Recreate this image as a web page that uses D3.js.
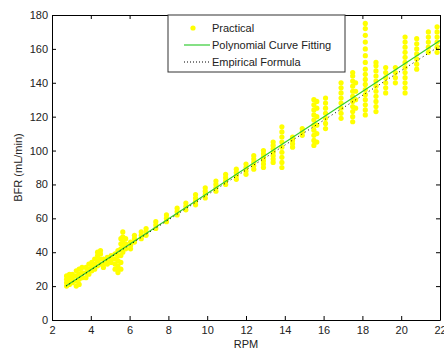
<!DOCTYPE html>
<html>
<head>
<meta charset="utf-8">
<script src="https://cdn.jsdelivr.net/npm/d3@7"></script>
<style>
  body { margin: 0; background: #fff; }
  svg { display: block; }
  text { font-family: "Liberation Sans", Arial, sans-serif; }
</style>
</head>
<body>
<div id="chart"></div>
<script>
// measured points, one row per rpm setting: [rpm, bfr values...]
const practical = [
  [2.75, 20, 22, 24, 26], [2.9, 21, 23, 25, 27], [3.05, 22, 25, 27],
  [3.25, 20, 23, 26, 29], [3.4, 21, 24, 27, 30], [3.55, 25, 28, 31],
  [3.75, 25, 28, 31], [3.9, 27, 30, 33], [4.05, 29, 32, 34],
  [4.2, 30, 33, 36], [4.35, 32, 35, 38, 40], [4.5, 33, 36, 39, 41],
  [4.65, 31, 33, 36], [4.85, 33, 35, 37], [5.05, 34, 36, 38],
  [5.25, 30, 33, 36, 39], [5.4, 28, 30, 32, 35, 38, 41],
  [5.55, 30, 34, 38, 42, 45, 48], [5.65, 40, 43, 46, 49, 52],
  [5.8, 42, 45, 48], [6.05, 42, 44, 46], [6.25, 46, 48, 50],
  [6.6, 48, 50, 52], [6.85, 50, 52, 54], [7.35, 54, 56, 58],
  [7.9, 58, 60, 62], [8.45, 62, 64, 66], [8.9, 65, 67, 69],
  [9.4, 68, 70, 72, 74], [9.9, 72, 74, 76, 78], [10.45, 76, 78, 80, 82],
  [10.95, 80, 82, 84, 86], [11.5, 83, 85, 87, 89], [12.0, 86, 88, 90, 92],
  [12.4, 89, 91, 93, 95, 97], [12.9, 90, 92, 94, 96, 98, 100],
  [13.4, 93, 95, 97, 99, 101, 103, 105],
  [13.85, 90, 93, 96, 99, 102, 105, 108, 111, 114],
  [14.4, 102, 104, 106, 108], [14.9, 109, 111, 113],
  [15.5, 103, 106, 109, 112, 115, 118, 121, 124, 127, 130],
  [15.65, 105, 110, 115, 120, 125, 129],
  [16.1, 113, 116, 119, 122, 125, 128, 131],
  [16.9, 119, 122, 125, 128, 131, 134, 137, 140],
  [17.5, 117, 120, 123, 126, 129, 132, 135, 138, 141, 144, 146],
  [17.65, 125, 130, 135, 140],
  [18.15, 121, 124, 127, 130, 133, 136, 139, 142, 145, 148, 152, 156, 160, 164, 168, 172, 175],
  [18.7, 123, 126, 129, 132, 135, 138, 141, 144, 147, 150, 152],
  [19.2, 134, 137, 140, 143, 146, 149], [19.7, 140, 143, 146, 149],
  [20.2, 134, 137, 140, 143, 146, 149, 152, 155, 158, 161, 164, 167],
  [20.8, 148, 151, 154, 157, 160, 163, 166],
  [21.4, 158, 161, 164, 167, 170],
  [21.85, 158, 161, 164, 167, 170, 173]
];

const fitRpm = [2.72, 6, 10, 14, 18, 22];
const polyBfr = [20, 44.7, 74.7, 104.8, 134.9, 165];
const empiricalBfr = [20, 44.3, 73.8, 103.2, 132.5, 161.8];

const xTicks = [2, 4, 6, 8, 10, 12, 14, 16, 18, 20, 22];
const yTicks = [0, 20, 40, 60, 80, 100, 120, 140, 160, 180];

const width = 444, height = 351;
const margin = {left: 52, right: 4, top: 15, bottom: 31};

const svg = d3.select("#chart").append("svg")
  .attr("width", width).attr("height", height);

const x = d3.scaleLinear().domain([2, 22]).range([margin.left, width - margin.right]);
const y = d3.scaleLinear().domain([0, 180]).range([height - margin.bottom, margin.top]);

// scatter
const pts = [];
practical.forEach(row => {
  row.slice(1).forEach(v => pts.push({rpm: row[0], bfr: v}));
});

svg.append("g").selectAll("circle").data(pts).enter().append("circle")
  .attr("cx", d => x(d.rpm))
  .attr("cy", d => y(d.bfr))
  .attr("r", 2.6)
  .attr("fill", "#ffff00");

const line = d3.line().x(d => x(d[0])).y(d => y(d[1]));

svg.append("path")
  .datum(fitRpm.map((r, i) => [r, polyBfr[i]]))
  .attr("d", line)
  .attr("fill", "none")
  .attr("stroke", "#33cc33")
  .attr("stroke-width", 1.2);

svg.append("path")
  .datum(fitRpm.map((r, i) => [r, empiricalBfr[i]]))
  .attr("d", line)
  .attr("fill", "none")
  .attr("stroke", "#000")
  .attr("stroke-width", 1)
  .attr("stroke-dasharray", "1,3");

// axes box with inward ticks on all sides
const tickLen = 4;
const axBottom = svg.append("g").attr("transform", `translate(0,${y(0)})`)
  .call(d3.axisBottom(x).tickValues(xTicks).tickSizeInner(-tickLen).tickSizeOuter(0).tickPadding(6));
const axTop = svg.append("g").attr("transform", `translate(0,${y(180)})`)
  .call(d3.axisTop(x).tickValues(xTicks).tickSizeInner(-tickLen).tickSizeOuter(0).tickFormat(""));
const axLeft = svg.append("g").attr("transform", `translate(${x(2)},0)`)
  .call(d3.axisLeft(y).tickValues(yTicks).tickSizeInner(-tickLen).tickSizeOuter(0).tickPadding(4));
const axRight = svg.append("g").attr("transform", `translate(${x(22)},0)`)
  .call(d3.axisRight(y).tickValues(yTicks).tickSizeInner(-tickLen).tickSizeOuter(0).tickFormat(""));

[axBottom, axTop, axLeft, axRight].forEach(g => {
  g.select(".domain").attr("stroke", "#000");
  g.selectAll(".tick line").attr("stroke", "#000");
  g.selectAll("text").attr("fill", "#222").style("font-size", "11px")
    .style("font-family", "'Liberation Sans', Arial, sans-serif");
});

// axis labels
svg.append("text")
  .attr("x", (x(2) + x(22)) / 2).attr("y", 348)
  .attr("text-anchor", "middle")
  .attr("fill", "#222").style("font-size", "11px")
  .text("RPM");

svg.append("text")
  .attr("transform", `translate(22,${(y(0) + y(180)) / 2}) rotate(-90)`)
  .attr("text-anchor", "middle")
  .attr("fill", "#222").style("font-size", "11px")
  .text("BFR (mL/min)");

// legend
const lg = svg.append("g");
lg.append("rect")
  .attr("x", 168).attr("y", 15).attr("width", 177).attr("height", 57)
  .attr("fill", "#fff").attr("stroke", "#333");

const items = ["Practical", "Polynomial Curve Fitting", "Empirical Formula"];
items.forEach((t, i) => {
  const yy = 28 + i * 17;
  if (i === 0) {
    lg.append("circle").attr("cx", 193).attr("cy", yy).attr("r", 2.6).attr("fill", "#ffff00");
  } else if (i === 1) {
    lg.append("line").attr("x1", 184).attr("x2", 210).attr("y1", yy).attr("y2", yy)
      .attr("stroke", "#33cc33").attr("stroke-width", 1.2);
  } else {
    lg.append("line").attr("x1", 184).attr("x2", 210).attr("y1", yy).attr("y2", yy)
      .attr("stroke", "#000").attr("stroke-dasharray", "1,2");
  }
  lg.append("text").attr("x", 212).attr("y", yy + 4)
    .attr("fill", "#222").style("font-size", "11px").text(t);
});
</script>
</body>
</html>
